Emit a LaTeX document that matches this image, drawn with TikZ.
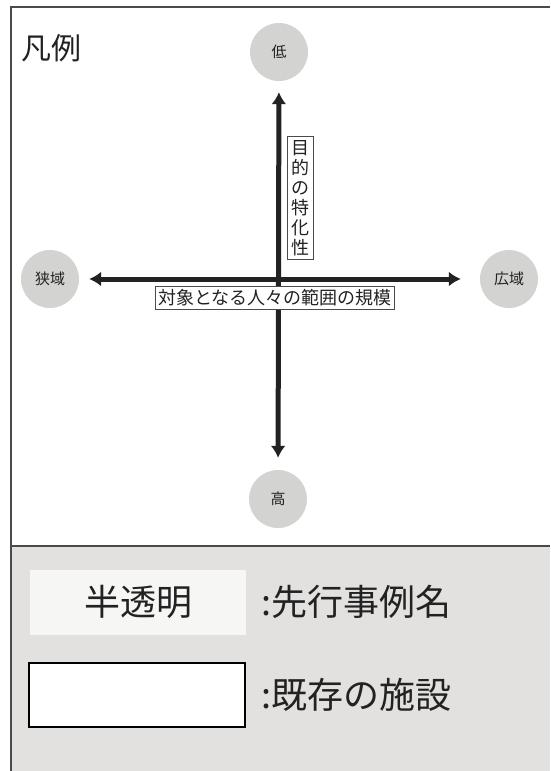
\documentclass[tikz,border=0pt]{standalone}
\usepackage{fontspec}
\setmainfont{Noto Sans CJK JP}
\usetikzlibrary{arrows.meta}
\definecolor{panel}{HTML}{E2E1DF}
\definecolor{circ}{HTML}{D3D3D2}
\definecolor{ink}{HTML}{222222}
\definecolor{frame}{HTML}{4A4A4A}
\tikzset{
  pole/.style={circle,fill=circ,minimum size=58pt,inner sep=0pt,font=\fontsize{15}{15}\selectfont,text=ink},
  axis/.style={line width=5pt,draw=ink,{Latex[length=12pt,width=15pt]}-{Latex[length=12pt,width=15pt]}},
  lab/.style={draw=frame,line width=0.9pt,fill=white,inner sep=3pt,font=\fontsize{18}{20}\selectfont,text=ink},
  legendtext/.style={anchor=west,font=\fontsize{36}{36}\selectfont,text=ink,inner sep=0pt}
}
\begin{document}
\begin{tikzpicture}[x=1pt,y=-1pt]
\useasboundingbox (0,0) rectangle (550,771);
\fill[white] (0,0) rectangle (550,771);
% panel
\fill[panel] (11,546) rectangle (550,771);
\draw[frame,line width=1.3pt] (11,771) -- (11,7) -- (550,7);
\draw[frame,line width=1.3pt] (11,546) -- (550,546);
% title
\node[font=\fontsize{30}{30}\selectfont,text=ink,anchor=west,inner sep=0pt] (title) at (21,48) {凡例};
% poles
\node[pole] (low) at (279,52) {低};
\node[pole] (high) at (278,499) {高};
\node[pole] (narrow) at (50,279) {狭域};
\node[pole] (wide) at (509,279) {広域};
% axes
\draw[axis,shorten <=11pt,shorten >=12pt] (low) -- (high);
\draw[axis,shorten <=10pt,shorten >=19pt] (narrow) -- (wide);
% labels
\node[lab,align=center,inner xsep=4pt,inner ysep=4pt] (vlab) at (300,198) {目\\的\\の\\特\\化\\性};
\node[lab] (hlab) at (275,298) {対象となる人々の範囲の規模};
% legend
\node[fill=white,fill opacity=0.7,minimum width=216pt,minimum height=65pt,inner sep=0pt] (semi) at (138,602) {};
\node[font=\fontsize{36}{36}\selectfont,text=ink] at (semi) {半透明};
\node[legendtext] (t1) at (261,602) {:先行事例名};
\node[draw=black,line width=2.5pt,fill=white,minimum width=216pt,minimum height=64pt,inner sep=0pt] (exist) at (137,695) {};
\node[legendtext] (t2) at (261,695) {:既存の施設};
\end{tikzpicture}
\end{document}
